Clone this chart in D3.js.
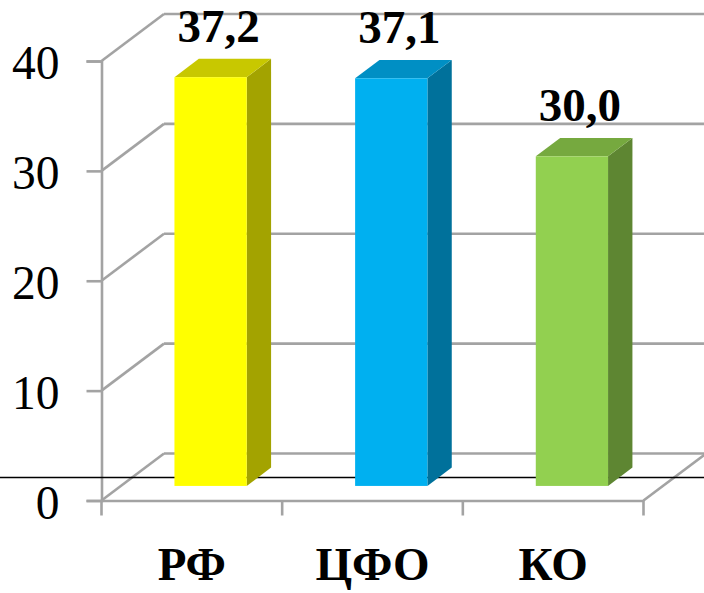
<!DOCTYPE html>
<html><head><meta charset="utf-8">
<script src="https://cdn.jsdelivr.net/npm/d3@7"></script>
<style>
html,body{margin:0;padding:0;background:#fff;overflow:hidden}
svg{display:block}
text{font-family:"Liberation Serif",serif;fill:#000}
</style></head><body>
<svg id="c" width="704" height="593"></svg>
<script>
const categories=["РФ","ЦФО","КО"];
const values=[37.2,37.1,30.0];
const valueLabels=["37,2","37,1","30,0"];
const frontColors=["#ffff00","#00b0f0","#92d050"];
const topColors=["#c8c800","#008fc4","#76a93f"];
const sideColors=["#a3a300","#00719b","#5e8632"];
const yTicks=[0,10,20,30,40];

const svg=d3.select("#c");
const x=d3.scaleBand().domain(categories).range([101.5,643.5]);
const y=d3.scaleLinear().domain([0,40]).range([500.5,61]);
const wallDx=62.5, wallDy=-47, barFrac=0.30, barDepth=0.39;
const grey="#a3a3a3", sw=2.6;
const bw=x.step()*0.4;

const line=(a,b,c,d)=>svg.append("line").attr("x1",a).attr("y1",b).attr("x2",c).attr("y2",d)
  .attr("stroke",grey).attr("stroke-width",sw);

yTicks.forEach(t=>{
  line(x.range()[0],y(t),x.range()[0]+wallDx,y(t)+wallDy);
  line(x.range()[0]+wallDx,y(t)+wallDy,704,y(t)+wallDy);
});
line(x.range()[1],y(0),x.range()[1]+wallDx,y(0)+wallDy);

const yAxis=d3.axisLeft(y).tickValues(yTicks).tickSize(15).tickPadding(27);
const gy=svg.append("g").attr("transform",`translate(${x.range()[0]},0)`).call(yAxis);
gy.select(".domain").attr("stroke",grey).attr("stroke-width",sw);
gy.selectAll(".tick line").attr("stroke",grey).attr("stroke-width",sw);
gy.selectAll(".tick text").attr("font-family","Liberation Serif").attr("font-size",47.5).attr("dy","0.37em").attr("fill","#000");

const xAxis=d3.axisBottom(x).tickSize(0).tickPadding(46);
const gx=svg.append("g").attr("transform",`translate(0,${y(0)})`).call(xAxis);
gx.select(".domain").attr("stroke",grey).attr("stroke-width",sw);
gx.selectAll(".tick text").attr("font-family","Liberation Serif").attr("font-size",47).attr("font-weight","bold").attr("fill","#000");
d3.range(categories.length+1).forEach(i=>{
  const px=x.range()[0]+i*x.step();
  line(px,y(0),px,y(0)+15);
});

svg.append("line").attr("x1",0).attr("x2",704).attr("y1",477.5).attr("y2",477.5).attr("stroke","#000").attr("stroke-width",1.4);

const ox=wallDx*barFrac, oy=wallDy*0.31;
const dx=wallDx*barDepth, dy=wallDy*barDepth;
const poly=pts=>pts.map(p=>p.join(",")).join(" ");
const g=svg.selectAll("g.bar").data(categories).join("g").attr("class","bar");
g.each(function(c,i){
  const s=d3.select(this);
  const l=x(c)+x.bandwidth()/2-bw/2+ox, r=l+bw;
  const b=y(0)+oy, t=y(values[i])+oy;
  s.append("polygon").attr("points",poly([[r,t],[r+dx,t+dy],[r+dx,b+dy],[r,b]])).attr("fill",sideColors[i]);
  s.append("polygon").attr("points",poly([[l,t],[l+dx,t+dy],[r+dx,t+dy],[r,t]])).attr("fill",topColors[i]);
  s.append("rect").attr("x",l).attr("y",t).attr("width",bw).attr("height",b-t).attr("fill",frontColors[i]);
  s.append("text").attr("x",(l+r)/2+8).attr("y",t-35.5).attr("text-anchor","middle")
    .attr("font-size",47).attr("font-weight","bold").text(valueLabels[i]);
});
</script></body></html>
